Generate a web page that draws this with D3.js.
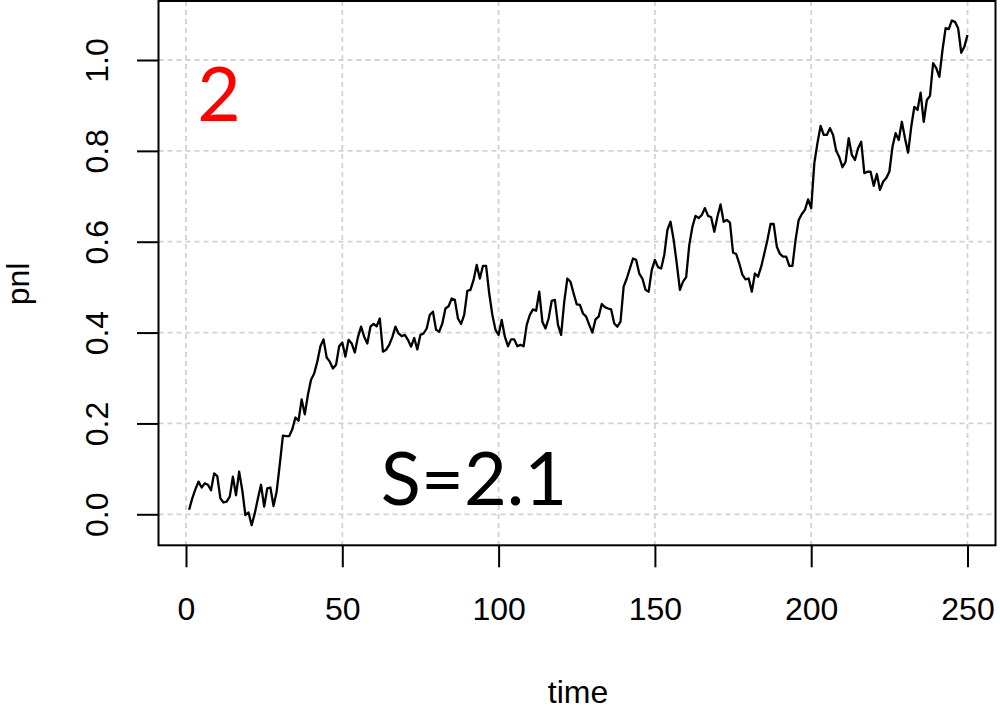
<!DOCTYPE html>
<html>
<head>
<meta charset="utf-8">
<script src="https://cdn.jsdelivr.net/npm/d3@7"></script>
<style>
  html, body { margin: 0; padding: 0; background: #fff; }
  svg { display: block; }
</style>
</head>
<body>
<svg id="chart" width="1000" height="709"></svg>
<script>
// Cumulative P&L, one value per trading day (time = 1..250)
const pnl = [
  0.010, 0.035, 0.055, 0.072, 0.059, 0.068, 0.065, 0.053, 0.090, 0.084,
  0.035, 0.026, 0.028, 0.039, 0.083, 0.042, 0.094, 0.053, -0.002, 0.004,
  -0.024, 0.002, 0.035, 0.065, 0.017, 0.057, 0.059, 0.018, 0.050, 0.110,
  0.173, 0.172, 0.172, 0.187, 0.213, 0.206, 0.253, 0.220, 0.263, 0.296,
  0.310, 0.336, 0.370, 0.385, 0.345, 0.336, 0.321, 0.329, 0.370, 0.378,
  0.347, 0.384, 0.376, 0.356, 0.390, 0.413, 0.391, 0.376, 0.413, 0.419,
  0.414, 0.431, 0.358, 0.362, 0.373, 0.390, 0.413, 0.398, 0.392, 0.395,
  0.384, 0.369, 0.388, 0.363, 0.395, 0.398, 0.409, 0.439, 0.446, 0.406,
  0.402, 0.420, 0.453, 0.458, 0.475, 0.472, 0.431, 0.419, 0.439, 0.492,
  0.494, 0.516, 0.549, 0.519, 0.547, 0.547, 0.486, 0.439, 0.406, 0.395,
  0.428, 0.391, 0.370, 0.385, 0.385, 0.370, 0.373, 0.370, 0.417, 0.439,
  0.451, 0.448, 0.490, 0.424, 0.409, 0.431, 0.470, 0.472, 0.417, 0.395,
  0.468, 0.519, 0.512, 0.486, 0.462, 0.461, 0.442, 0.435, 0.417, 0.400,
  0.429, 0.435, 0.463, 0.456, 0.453, 0.451, 0.420, 0.413, 0.424, 0.501,
  0.519, 0.541, 0.563, 0.560, 0.530, 0.519, 0.494, 0.490, 0.538, 0.560,
  0.544, 0.541, 0.571, 0.626, 0.644, 0.604, 0.552, 0.494, 0.512, 0.522,
  0.593, 0.633, 0.657, 0.652, 0.659, 0.674, 0.657, 0.654, 0.622, 0.655,
  0.682, 0.644, 0.648, 0.642, 0.576, 0.573, 0.552, 0.527, 0.517, 0.519,
  0.490, 0.530, 0.523, 0.545, 0.574, 0.604, 0.639, 0.639, 0.589, 0.573,
  0.567, 0.567, 0.547, 0.547, 0.604, 0.648, 0.661, 0.670, 0.693, 0.674,
  0.773, 0.817, 0.855, 0.835, 0.835, 0.850, 0.835, 0.800, 0.786, 0.764,
  0.776, 0.828, 0.791, 0.780, 0.806, 0.820, 0.751, 0.754, 0.754, 0.723,
  0.749, 0.714, 0.732, 0.740, 0.754, 0.809, 0.839, 0.824, 0.864, 0.828,
  0.796, 0.853, 0.897, 0.890, 0.928, 0.864, 0.912, 0.921, 0.993, 0.982,
  0.963, 1.022, 1.070, 1.068, 1.087, 1.084, 1.070, 1.016, 1.029, 1.055
];
const days = pnl.map((_, i) => i + 1);

const xTicks = [0, 50, 100, 150, 200, 250];
const yTicks = [0.0, 0.2, 0.4, 0.6, 0.8, 1.0];
const xTitle = "time";
const yTitle = "pnl";
const panelLabel = "2";
const sharpeLabel = "S=2.1";

const svg = d3.select("#chart");
const box = { left: 158.5, right: 995.5, top: 1, bottom: 545.3 };

const x = d3.scaleLinear().domain([0, 250]).range([186, 967.5]);
const y = d3.scaleLinear().domain([0, 1]).range([514.3, 60]);

const tickFont = "'Liberation Sans', Arial, Helvetica, sans-serif";

// dotted grid
const grid = svg.append("g")
  .attr("stroke", "#d2d2d2")
  .attr("stroke-width", 1.8)
  .attr("stroke-dasharray", "5,4")
  .attr("fill", "none");
grid.selectAll("line.v").data(xTicks).join("line")
  .attr("class", "v")
  .attr("x1", d => x(d)).attr("x2", d => x(d))
  .attr("y1", box.top).attr("y2", box.bottom);
grid.selectAll("line.h").data(yTicks).join("line")
  .attr("class", "h")
  .attr("x1", box.left).attr("x2", box.right)
  .attr("y1", d => y(d)).attr("y2", d => y(d));

// the P&L path
const line = d3.line()
  .x((d, i) => x(days[i]))
  .y(d => y(d));
svg.append("path")
  .datum(pnl)
  .attr("d", line)
  .attr("fill", "none")
  .attr("stroke", "#000")
  .attr("stroke-width", 2.3)
  .attr("stroke-linejoin", "round");

// plot frame
svg.append("rect")
  .attr("x", box.left).attr("y", box.top)
  .attr("width", box.right - box.left)
  .attr("height", box.bottom - box.top)
  .attr("fill", "none")
  .attr("stroke", "#000")
  .attr("stroke-width", 2);

// bottom axis
const xAxis = d3.axisBottom(x)
  .tickValues(xTicks)
  .tickSize(22)
  .tickSizeOuter(0)
  .tickPadding(30)
  .tickFormat(d3.format("d"));
const gx = svg.append("g")
  .attr("transform", `translate(0,${box.bottom})`)
  .call(xAxis);
gx.select(".domain").remove();
gx.selectAll(".tick line").attr("stroke", "#000").attr("stroke-width", 2);
gx.selectAll(".tick text")
  .attr("fill", "#000")
  .attr("font-family", tickFont)
  .attr("font-size", 32)
  .attr("dy", null)
  .attr("y", 74.7)
  .attr("text-anchor", "middle");

// left axis with rotated labels
const yAxis = d3.axisLeft(y)
  .tickValues(yTicks)
  .tickSize(21.5)
  .tickSizeOuter(0)
  .tickFormat(d3.format(".1f"));
const gy = svg.append("g")
  .attr("transform", `translate(${box.left},0)`)
  .call(yAxis);
gy.select(".domain").remove();
gy.selectAll(".tick line").attr("stroke", "#000").attr("stroke-width", 2);
gy.selectAll(".tick text")
  .attr("fill", "#000")
  .attr("font-family", tickFont)
  .attr("font-size", 32)
  .attr("x", null)
  .attr("dy", null)
  .attr("text-anchor", "middle")
  .attr("transform", `translate(${108 - box.left},0) rotate(-90)`);

// axis titles
svg.append("text")
  .attr("x", 578).attr("y", 703)
  .attr("text-anchor", "middle")
  .attr("font-family", tickFont)
  .attr("font-size", 32)
  .attr("fill", "#000")
  .text(xTitle);
svg.append("text")
  .attr("transform", "translate(29,284) rotate(-90)")
  .attr("text-anchor", "middle")
  .attr("font-family", tickFont)
  .attr("font-size", 32)
  .attr("fill", "#000")
  .text(yTitle);

// annotations
svg.append("text")
  .attr("x", 219).attr("y", 121)
  .attr("text-anchor", "middle")
  .attr("font-family", "Lato, 'Open Sans', sans-serif")
  .attr("font-size", 75)
  .attr("fill", "#ff0000")
  .text(panelLabel);
svg.append("text")
  .attr("x", 474).attr("y", 505)
  .attr("text-anchor", "middle")
  .attr("font-family", "Lato, 'Open Sans', sans-serif")
  .attr("font-size", 74)
  .attr("fill", "#000")
  .text(sharpeLabel);
</script>
</body>
</html>
